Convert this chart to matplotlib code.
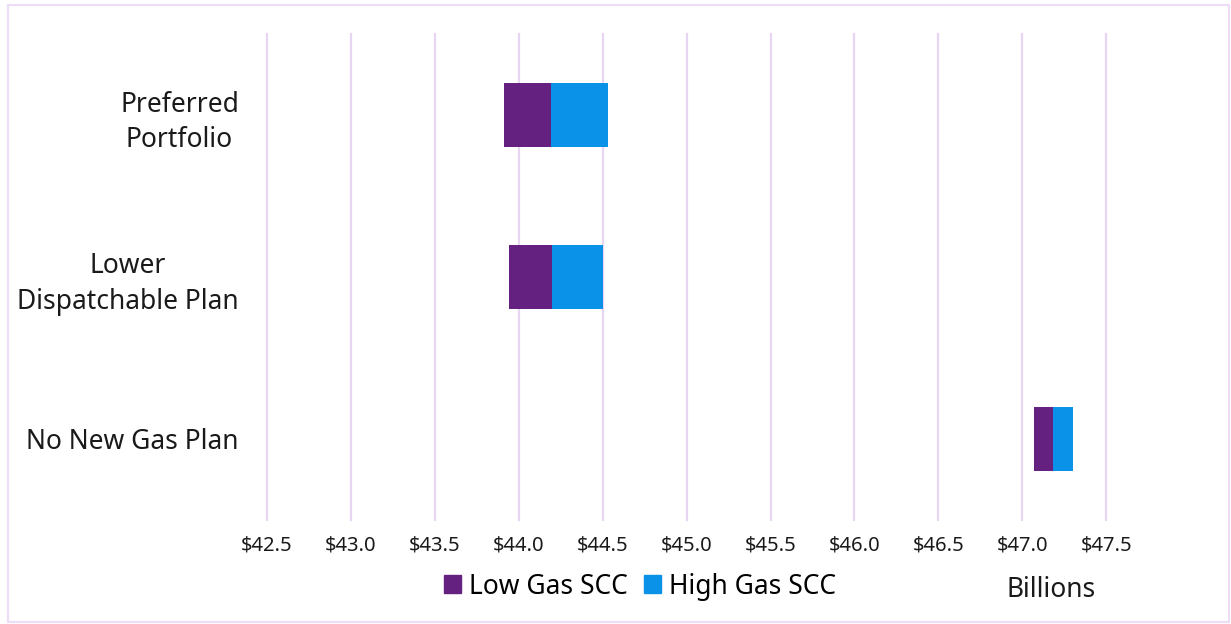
import matplotlib
matplotlib.use('Agg')
import matplotlib.pyplot as plt
from matplotlib.patches import Patch, Rectangle

plt.rcParams['font.family'] = ['Noto Sans', 'DejaVu Sans']

# portfolio cost ranges, $ billions
categories = ['Preferred\nPortfolio', 'Lower\nDispatchable Plan', 'No New Gas Plan']
low_start = [43.91, 43.94, 47.07]
low_end = [44.19, 44.20, 47.18]
high_end = [44.53, 44.50, 47.30]
ticks = [42.5, 43.0, 43.5, 44.0, 44.5, 45.0, 45.5, 46.0, 46.5, 47.0, 47.5]

purple = '#65217F'
blue = '#0A91E8'
grid_col = '#E6D6F3'

fig = plt.figure(figsize=(12.31, 6.24), dpi=100)
ax = fig.add_axes([0.2167, 0.1667, 0.7366, 0.7788])

pos = range(len(categories))
low_w = [e - s for s, e in zip(low_start, low_end)]
high_w = [h - e for e, h in zip(low_end, high_end)]
ax.barh(pos, low_w, left=low_start, height=0.4, color=purple, zorder=3)
ax.barh(pos, high_w, left=low_end, height=0.4, color=blue, zorder=3)

ax.set_xlim(42.5, 47.9)
ax.set_ylim(2.5, -0.5)
ax.set_xticks(ticks)
ax.set_xticklabels(['$%.1f' % t for t in ticks], fontsize=14.5)
ax.set_yticks(list(pos))
ax.set_yticklabels(categories, fontsize=19, multialignment='center', linespacing=1.35)
ax.tick_params(axis='both', length=0, colors='#1a1a1a')
ax.tick_params(axis='x', pad=11)
ax.tick_params(axis='y', pad=20)
ax.grid(axis='x', color=grid_col, linewidth=1.6, zorder=0)
for gl in ax.get_xgridlines():
    gl.set_clip_on(False)
for s in ax.spines.values():
    s.set_visible(False)

handles = [Patch(color=purple, label='Low Gas SCC'),
           Patch(color=blue, label='High Gas SCC')]
fig.legend(handles=handles, loc='center', bbox_to_anchor=(0.52, 0.06), ncol=2,
           frameon=False, fontsize=19, handlelength=0.65, handleheight=0.65,
           handletextpad=0.3, columnspacing=0.6)
fig.text(0.854, 0.055, 'Billions', fontsize=19, ha='center', va='center', color='#1a1a1a')

# light outline around the chart area
fig.patches.append(Rectangle((0.0065, 0.003), 0.9915, 0.9895, transform=fig.transFigure,
                             fill=False, edgecolor='#EEDDF7', linewidth=1.6))

fig.savefig('out.png', dpi=100, facecolor='white')
